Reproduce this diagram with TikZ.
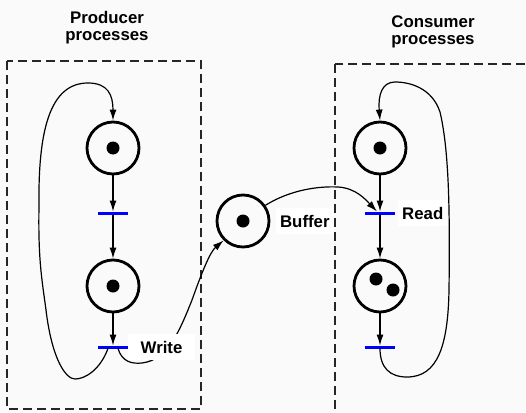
\documentclass[tikz,border=0pt]{standalone}
\usepackage{fontspec}
\setmainfont{Liberation Sans}
\usetikzlibrary{arrows.meta, positioning}
\definecolor{cblue}{HTML}{0000FF}
\definecolor{cbg}{HTML}{FAFAFA}
\tikzset{
  every picture/.style={font=\bfseries\fontsize{16.8}{17}\selectfont},
  place/.style={draw, circle, line width=2.8pt, minimum size=52pt, inner sep=0pt},
  trans/.style={fill=cblue, minimum width=30pt, minimum height=3pt, inner sep=0pt, outer sep=0pt},
  arc/.style={-{Latex[length=11pt, width=7pt]}, line width=1.2pt},
  lbl/.style={fill=white, inner xsep=4pt, inner ysep=6.5pt},
  grp/.style={dash pattern=on 9pt off 5pt, line width=1.3pt, draw=black!85},
  title/.style={align=center, inner sep=0pt, anchor=north},
}

\begin{document}
\begin{tikzpicture}[x=1pt, y=-1pt]
  \fill[cbg] (0,0) rectangle (526,412);
  \useasboundingbox (0,0) rectangle (526,412);
  \clip (0,0) rectangle (526,412);
  % process groups
  \draw[grp] (7,61) rectangle (201,409);
  \draw[grp] (335,64) rectangle (540,430);
  \node[title] (ptitle) at (107,10.8) {Producer\\processes};
  \node[title] (ctitle) at (433,15.9) {Consumer\\processes};
  % places
  \node[place] (p1) at (113,148) {};
  \node[place] (p2) at (113,286) {};
  \node[place] (buf) at (243,221) {};
  \node[place] (c1) at (380,148) {};
  \node[place] (c2) at (380,286) {};
  % tokens
  \fill (p1) circle (6.5pt);
  \fill (p2) circle (6.5pt);
  \fill (buf) circle (6.5pt);
  \fill (c1) circle (6.5pt);
  \fill ([shift={(-4,-7)}]c2.center) circle (6.5pt);
  \fill ([shift={(13,4)}]c2.center) circle (6.5pt);
  % transitions
  \node[trans] (t1) at (113,213) {};
  \node[trans] (wr) at (113,347) {};
  \node[trans] (rd) at (380,213) {};
  \node[trans] (t4) at (380,347) {};
  % arcs
  \draw[arc] (p1) -- (t1);
  \draw[arc] (t1) -- (p2);
  \draw[arc] (p2) -- (wr);
  \draw[arc] (c1) -- (rd);
  \draw[arc] (rd) -- (c2);
  \draw[arc] (c2) -- (t4);
  \draw[arc] ([xshift=-5pt]wr.south) .. controls (100,370) and (85,379) .. (75,379)
    .. controls (66,379) and (52,360) .. (46,310)
    .. controls (42,280) and (38,260) .. (39,206)
    .. controls (38,130) and (50,83) .. (88,83)
    .. controls (108,83) and (113,95) .. (p1.north);
  \draw[arc] ([xshift=5pt]wr.south) .. controls (122,362) and (132,364) .. (142,363)
    .. controls (168,360) and (180,330) .. (192,300)
    .. controls (202,272) and (210,252) .. (buf.-135);
  \draw[arc] (buf.35) .. controls (290,190) and (318,186) .. (338,187)
    .. controls (356,188) and (366,200) .. ([xshift=-3pt]rd.north);
  \draw[arc] (t4.south) .. controls (380,368) and (390,377) .. (407,377)
    .. controls (438,377) and (448,345) .. (449,290)
    .. controls (450,210) and (449,150) .. (440,112)
    .. controls (432,88) and (410,82) .. (395,82)
    .. controls (382,82) and (378,95) .. (c1.north);
  % labels
  \node[lbl, inner xsep=12.5pt, right=0pt of wr] (wrlbl) {Write};
  \node[lbl, right=3pt of rd] (rdlbl) {Read};
  \node[lbl, right=5.5pt of buf] (buflbl) {Buffer};
\end{tikzpicture}
\end{document}
